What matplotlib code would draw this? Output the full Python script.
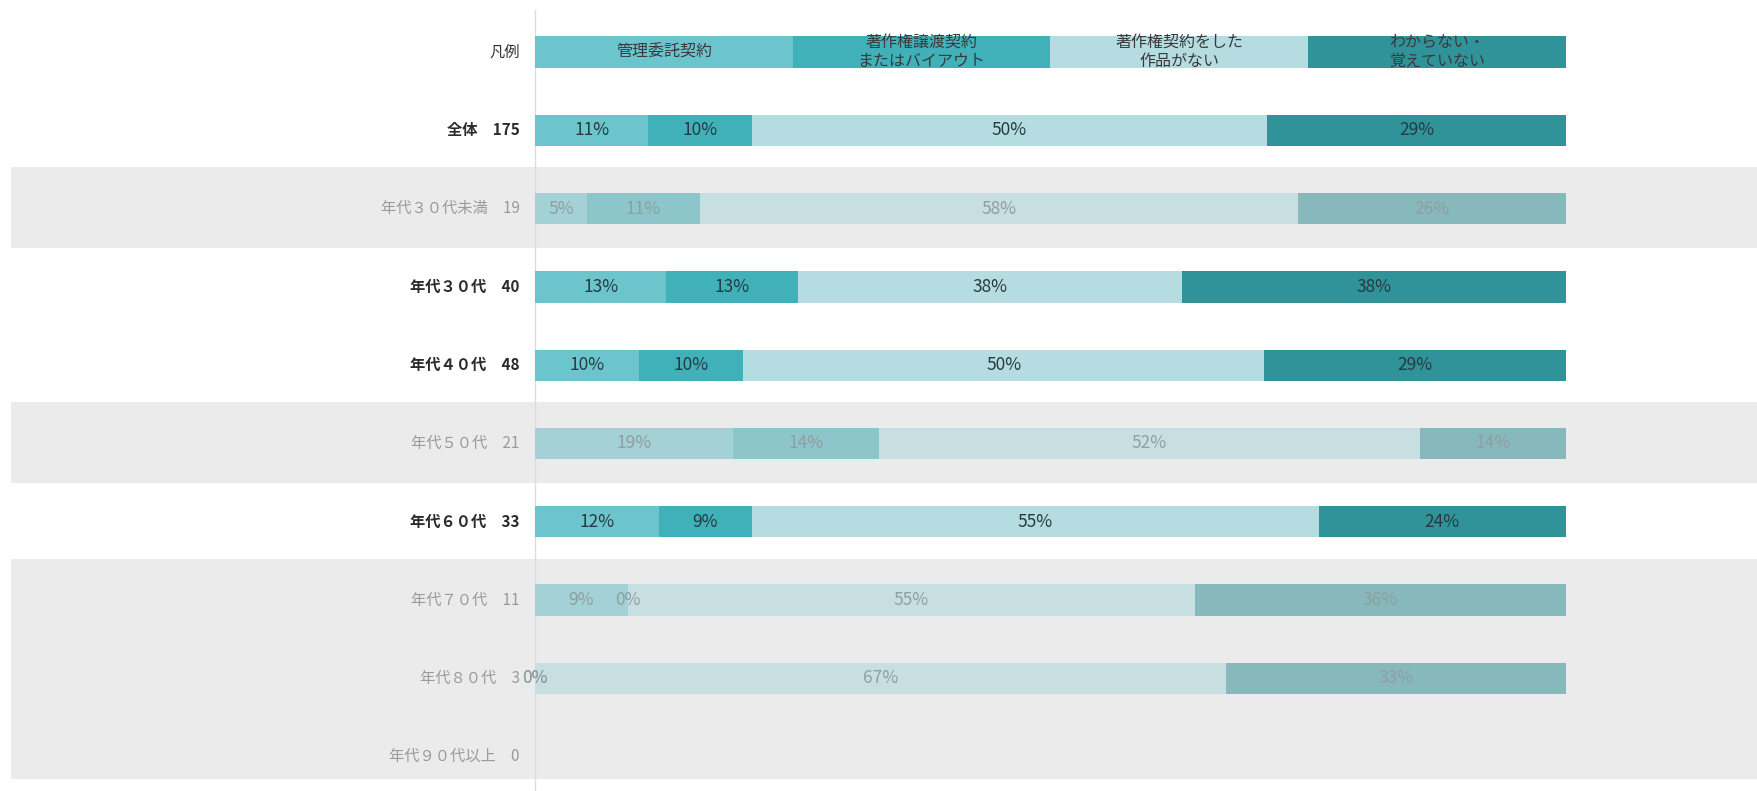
import matplotlib
matplotlib.use("Agg")
import matplotlib.pyplot as plt

plt.rcParams['font.family'] = ['Noto Sans CJK JP', 'DejaVu Sans']

# rows from top to bottom
categories = ["全体", "年代３０代未満", "年代３０代", "年代４０代", "年代５０代",
              "年代６０代", "年代７０代", "年代８０代", "年代９０代以上"]
counts = [175, 19, 40, 48, 21, 33, 11, 3, 0]
small_sample = [False, True, False, False, True, False, True, True, True]

series_names = ["管理委託契約", "著作権譲渡契約\nまたはバイアウト",
                "著作権契約をした\n作品がない", "わからない・\n覚えていない"]

# percentages as printed in the chart
kanri = [11, 5, 13, 10, 19, 12, 9, 0, None]
joto = [10, 11, 13, 10, 14, 9, 0, 0, None]
nashi = [50, 58, 38, 50, 52, 55, 55, 67, None]
fumei = [29, 26, 38, 29, 14, 24, 36, 33, None]

colors = ["#6cc4cc", "#40b0b9", "#b4dce1", "#30939a"]
colors_dim = ["#a3d1d5", "#8cc5ca", "#c8dfe1", "#86b8bc"]

fig = plt.figure(figsize=(17.58, 7.91), dpi=100)
ax = fig.add_axes([0, 0, 1, 1])

# pixel layout: bars 535..1566 px, row pitch 78.3 px, first row at 52 px
ppu = (1566 - 535) / 100.0
ax.set_xlim(-535 / ppu, (1758 - 535) / ppu)
pitch = 78.3
ax.set_ylim((791 - 52) / pitch, -52 / pitch)
ax.axis('off')

bar_h = 0.40

# grey bands for small samples
band_bottom = (779 - 52) / pitch
for i, dim in enumerate(small_sample):
    y = i + 1
    if dim:
        ax.axhspan(y - 0.53, min(y + 0.5, band_bottom), xmin=11 / 1758, xmax=1,
                   color="#ebebeb", lw=0, zorder=0)

ax.axvline(0, ymin=0, ymax=1 - 10 / 791, color="#dcdcdc", lw=1, zorder=1)

# legend row
ax.text(-1.5, 0, "凡例", ha='right', va='center', fontsize=11, color="#333333")
for k in range(4):
    ax.barh(0, 25, left=25 * k, height=bar_h, color=colors[k], lw=0, zorder=2)
    ax.text(25 * k + 12.5, 0, series_names[k], ha='center', va='center',
            fontsize=11.5, color="#3a3a3a", linespacing=1.15, zorder=3)

data = [kanri, joto, nashi, fumei]
for i, cat in enumerate(categories):
    y = i + 1
    dim = small_sample[i]
    lab_col = "#9a9a9a" if dim else "#2b2b2b"
    ax.text(-1.5, y, f"{cat}　{counts[i]}", ha='right', va='center', fontsize=11,
            color=lab_col, fontweight='normal' if dim else 'bold')
    vals = [s[i] for s in data]
    if vals[0] is None:
        continue
    total = sum(vals)
    left = 0.0
    pal = colors_dim if dim else colors
    for k, v in enumerate(vals):
        w = v * 100.0 / total
        ax.barh(y, w, left=left, height=bar_h, color=pal[k], lw=0, zorder=2)
        ax.text(left + w / 2, y, f"{v}%", ha='center', va='center', fontsize=12.5,
                color="#8f9fa1" if dim else "#263b40", zorder=3)
        left += w

fig.savefig("out.png", dpi=100)
